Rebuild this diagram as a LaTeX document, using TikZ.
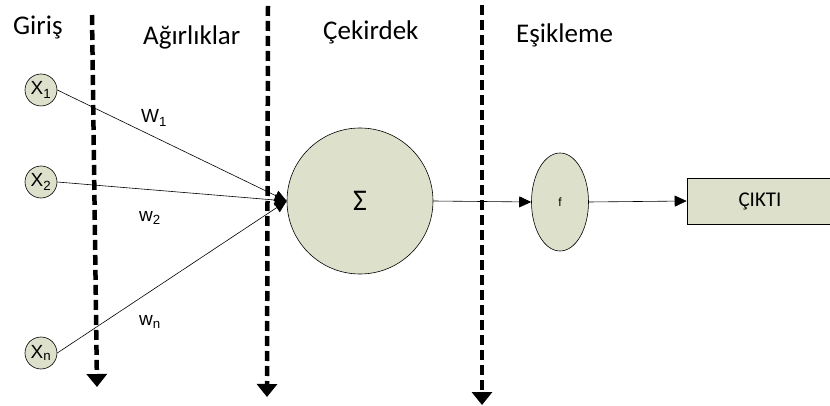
\documentclass[tikz,border=0pt]{standalone}
\usepackage{fontspec}
\setmainfont{Carlito}
\newfontfamily\arialfont{Liberation Sans}
\usetikzlibrary{arrows.meta,positioning,shapes.geometric}
\definecolor{sage}{HTML}{DDE1CB}
\definecolor{ink}{HTML}{000000}

\begin{document}
\begin{tikzpicture}[
  x=1pt, y=-1pt,
  >=Triangle,
  unit/.style={draw=ink, fill=sage, line width=0.6pt, inner sep=0pt},
  input/.style={unit, circle, minimum size=32pt, font=\arialfont\fontsize{19}{19}\selectfont},
  sum/.style={unit, circle, minimum size=146pt, font=\fontsize{30}{30}\selectfont},
  act/.style={unit, ellipse, minimum width=57pt, minimum height=98pt,
    font=\arialfont\fontsize{12}{12}\selectfont},
  outbox/.style={unit, rectangle, minimum width=146pt, minimum height=46pt,
    font=\fontsize{21}{21}\selectfont},
  head/.style={anchor=base west, inner sep=0pt, font=\fontsize{27}{27}\selectfont},
  weight/.style={font=\arialfont\fontsize{19}{19}\selectfont, inner sep=0pt},
  arrow/.style={-{Triangle[length=12pt,width=11pt]}, line width=0.6pt, draw=ink},
  separator/.style={-{Triangle[length=13pt,width=20pt]}, line width=4.5pt,
    dash pattern=on 10pt off 5pt, draw=ink}
]
\useasboundingbox (0,0) rectangle (830,406);

% column headings
\node[head] (giris) at (13,35) {Giriş};
\node[head] (agirlik) at (143,45) {Ağırlıklar};
\node[head] (cekirdek) at (323,40) {Çekirdek};
\node[head] (esik) at (516,43) {Eşikleme};

% separators
\coordinate (sepatop) at (92,15);
\coordinate (sepabot) at (97,387);
\coordinate (sepbtop) at (268,6);
\coordinate (sepbbot) at (267,397);
\coordinate (sepctop) at (482,5);
\coordinate (sepcbot) at (482,405);
\draw[separator] (sepatop) -- (sepabot);
\draw[separator] (sepbtop) -- (sepbbot);
\draw[separator] (sepctop) -- (sepcbot);

% neuron
\node[input] (x1) at (41,90) {X\textsubscript{1}};
\node[input] (x2) at (41,182) {X\textsubscript{2}};
\node[input] (xn) at (41,353) {X\textsubscript{n}};
\node[sum] (sigma) at (360,201) {Σ};
\node[act] (fact) at (560,202) {f};
\node[outbox] (cikti) at (760,201) {ÇIKTI};

\node[weight] (w1) at (154,118) {W\textsubscript{1}};
\node[weight] (w2) at (150,218) {w\textsubscript{2}};
\node[weight] (wn) at (150,322) {w\textsubscript{n}};

\draw[arrow] (x1.east) -- (sigma.west);
\draw[arrow] (x2.east) -- (sigma.west);
\draw[arrow] (xn.east) -- (sigma.west);
\draw[arrow] (sigma.east) -- (fact.west);
\draw[arrow] (fact.east) -- (cikti.west);

\end{tikzpicture}
\end{document}
